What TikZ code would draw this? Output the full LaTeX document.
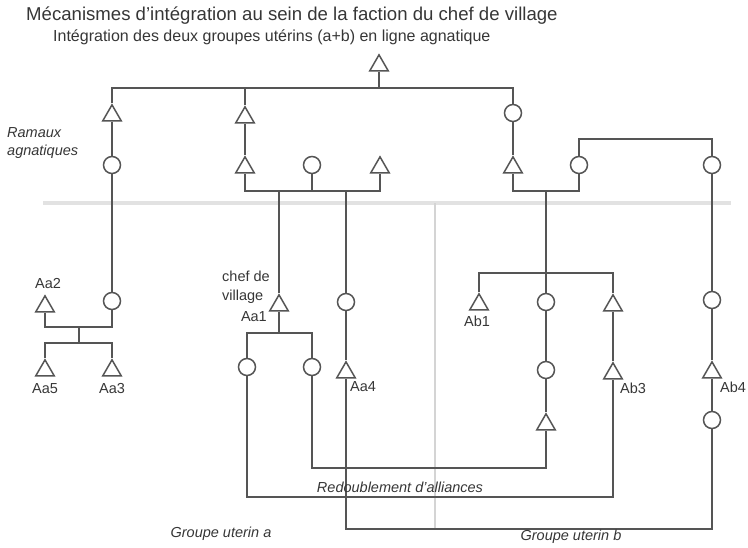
\documentclass[tikz,border=0pt]{standalone}
\usepackage{fontspec}
\setmainfont{Liberation Sans}
\usetikzlibrary{shapes.geometric}
\definecolor{ln}{HTML}{555555}
\definecolor{tx}{HTML}{363636}
\definecolor{dv}{HTML}{E2E2E2}
\definecolor{dvv}{HTML}{D4D4D4}
\begin{document}
\begin{tikzpicture}[x=1pt,y=-1pt,
  trinode/.style={regular polygon, regular polygon sides=3, draw=ln, line width=1.5pt, fill=white, minimum size=21.5pt, inner sep=0pt, yshift=-2.6pt},
  circnode/.style={circle, draw=ln, line width=1.5pt, fill=white, minimum size=17pt, inner sep=0pt},
  link/.style={draw=ln, line width=1.6pt},
  lbl/.style={text=tx, font=\fontsize{14.5}{16}\selectfont, inner sep=0pt},
  ilbl/.style={text=tx, font=\fontsize{14.5}{16}\selectfont\itshape, inner sep=0pt},
  divider/.style={draw=dv, line width=3.5pt},
  vdivider/.style={draw=dvv, line width=1.8pt}]
\useasboundingbox (0,0) rectangle (748,547);
% dividers
\draw[divider] (43,203) -- (731,203);
\draw[vdivider] (435,203) -- (435,530);
% titles
\node[anchor=west, text=tx, font=\fontsize{18.6}{20}\selectfont, inner sep=0pt] (title) at (26,16) {Mécanismes d'intégration au sein de la faction du chef de village};
\node[anchor=west, text=tx, font=\fontsize{16}{17}\selectfont, inner sep=0pt] (sub) at (53,37) {Intégration des deux groupes utérins (a+b) en ligne agnatique};
% upper symbols
\node[trinode] (T0) at (379,63) {};
\node[trinode] (A1) at (112,113) {};
\node[circnode] (A2) at (112,165) {};
\node[circnode] (A3) at (112,301) {};
\node[trinode] (B1) at (245,115) {};
\node[trinode] (B2) at (245,165) {};
\node[circnode] (B3) at (312,165) {};
\node[trinode] (B4) at (380,165) {};
\node[circnode] (C1) at (513,113) {};
\node[trinode] (C2) at (513,165) {};
\node[circnode] (C3) at (579,165) {};
\node[circnode] (C4) at (712,165) {};
% lower symbols
\node[trinode] (Aa2) at (45,304) {};
\node[trinode] (Aa5) at (45,368) {};
\node[trinode] (Aa3) at (112,368) {};
\node[trinode] (Aa1) at (279,303) {};
\node[circnode] (D1) at (247,367) {};
\node[circnode] (D2) at (312,367) {};
\node[circnode] (D3) at (346,302) {};
\node[trinode] (Aa4) at (346,370) {};
\node[trinode] (Ab1) at (479,302) {};
\node[circnode] (E1) at (546,302) {};
\node[circnode] (E2) at (546,370) {};
\node[trinode] (E3) at (546,422) {};
\node[trinode] (E4) at (613,303) {};
\node[trinode] (Ab3) at (613,371) {};
\node[circnode] (F1) at (712,300) {};
\node[trinode] (Ab4) at (712,370) {};
\node[circnode] (F2) at (712,420) {};
% coordinates
\coordinate (top) at (379,88);
\coordinate (barB) at (312,191);
\coordinate (barC) at (546,191);
\coordinate (hC) at (640,139);
\coordinate (barL1) at (79,327);
\coordinate (barL2) at (79,343);
\coordinate (barAa1) at (279,333);
\coordinate (barAb) at (546,273);
\coordinate (r1) at (430,468);
\coordinate (r2) at (430,497);
\coordinate (r3) at (530,529);
% connectors
\draw[link] (T0.south) -- (top);
\draw[link] (A1.north) |- (top) -| (C1.north);
\draw[link] (B1.north) -- (B1.north |- top);
\draw[link] (A1.south) -- (A2.north);
\draw[link] (A2.south) -- (A3.north);
\draw[link] (B1.south) -- (B2.north);
\draw[link] (B2.south) |- (barB) -| (B4.south);
\draw[link] (B3.south) -- (barB);
\draw[link] (Aa1.north) -- (Aa1.north |- barB);
\draw[link] (D3.north) -- (D3.north |- barB);
\draw[link] (C1.south) -- (C2.north);
\draw[link] (C2.south) |- (barC) -| (C3.south);
\draw[link] (C3.north) |- (hC) -| (C4.north);
\draw[link] (E1.north) -- (E1.north |- barC);
\draw[link] (Ab1.north) |- (barAb) -| (E4.north);
\draw[link] (E1.south) -- (E2.north);
\draw[link] (E2.south) -- (E3.north);
\draw[link] (E4.south) -- (Ab3.north);
\draw[link] (C4.south) -- (F1.north);
\draw[link] (F1.south) -- (Ab4.north);
\draw[link] (Ab4.south) -- (F2.north);
\draw[link] (D3.south) -- (Aa4.north);
\draw[link] (Aa2.south) |- (barL1) -| (A3.south);
\draw[link] (barL1) -- (barL2);
\draw[link] (Aa5.north) |- (barL2) -| (Aa3.north);
\draw[link] (D1.north) |- (barAa1) -| (D2.north);
\draw[link] (Aa1.south) -- (barAa1);
\draw[link] (D2.south) |- (r1) -| (E3.south);
\draw[link] (D1.south) |- (r2) -| (Ab3.south);
\draw[link] (Aa4.south) |- (r3) -| (F2.south);
% labels
\node[lbl] (lAa2) at (48,284) {Aa2};
\node[lbl] (lAa5) at (45,389) {Aa5};
\node[lbl] (lAa3) at (112,389) {Aa3};
\node[lbl, anchor=west] (lchef) at (222,276) {chef de};
\node[lbl, anchor=west] (lvil) at (222,297) {village};
\node[lbl, anchor=east] (lAa1) at (267,317) {Aa1};
\node[lbl, anchor=west] (lAa4) at (350,387) {Aa4};
\node[lbl] (lAb1) at (477,321) {Ab1};
\node[lbl, anchor=west] (lAb3) at (620,388) {Ab3};
\node[lbl, anchor=west] (lAb4) at (720,387) {Ab4};
\node[ilbl, anchor=west] (lram) at (7,133) {Ramaux};
\node[ilbl, anchor=west] (lagn) at (7,152) {agnatiques};
\node[ilbl] (lred) at (400,487) {Redoublement d'alliances};
\node[ilbl] (lga) at (221,534) {Groupe uterin a};
\node[ilbl] (lgb) at (571,537) {Groupe uterin b};
\end{tikzpicture}
\end{document}
